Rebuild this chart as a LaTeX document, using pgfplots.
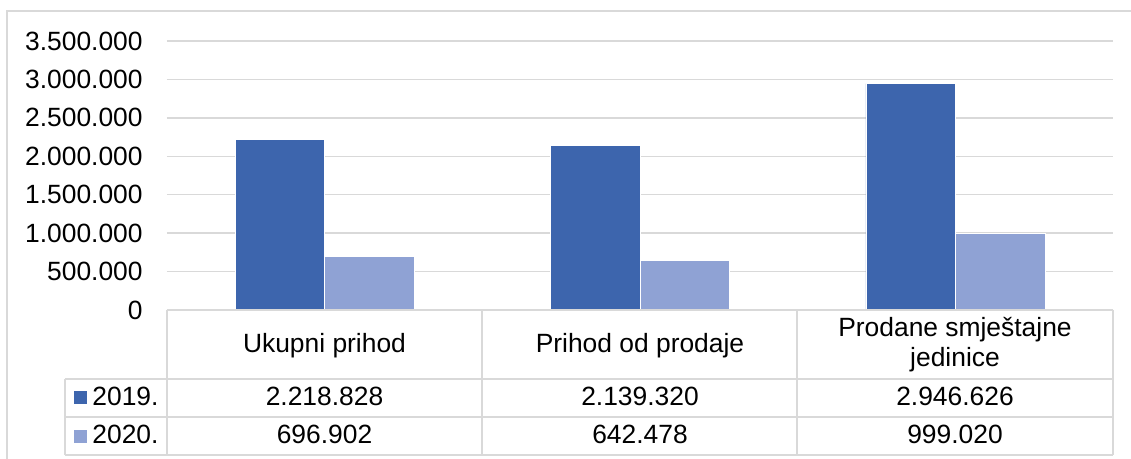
\documentclass[border=0pt]{standalone}
\usepackage{pgfplots}
\pgfplotsset{compat=1.18}
\usepackage{fontspec}
\setmainfont{Liberation Sans}
\definecolor{cA}{RGB}{61,101,173}
\definecolor{cB}{RGB}{143,162,212}
\definecolor{gridc}{RGB}{217,217,217}
\begin{document}
\begin{tikzpicture}[font=\fontsize{13.2pt}{15pt}\selectfont]
\useasboundingbox (0,0) rectangle (565.5pt,229.5pt);
\begin{axis}[
  at={(83.5pt,74.5pt)}, anchor=south west,
  scale only axis, width=473pt, height=134.5pt,
  xmin=-0.5, xmax=2.5, ymin=0, ymax=3500000,
  ytick={0,500000,1000000,1500000,2000000,2500000,3000000,3500000},
  xtick=\empty,
  ybar=0pt, bar width=44.75pt,
  ymajorgrids, grid style={gridc, line width=0.75pt},
  axis line style={draw=none},
  major tick length=0pt,
  scaled y ticks=false,
  yticklabel style={inner sep=0pt, xshift=-12pt, font=\fontsize{13.2pt}{15pt}\selectfont,
    /pgf/number format/.cd, fixed, 1000 sep={.}, assume math mode=true},
]
\addplot[fill=cA, draw=white, line width=0.3pt] coordinates {(0,2218828) (1,2139320) (2,2946626)};
\addplot[fill=cB, draw=white, line width=0.3pt] coordinates {(0,696902) (1,642478) (2,999020)};
\end{axis}
\begin{scope}[shift={(0,229.5pt)}, x=0.5pt, y=-0.5pt]
\draw[gridc, line width=0.75pt] (7,470) -- (7,11) -- (1140,11);
\draw[gridc, line width=0.75pt] (167,310) -- (1113,310) (65,379) -- (1113,379)
  (65,417) -- (1113,417) (65,455) -- (1113,455);
\draw[gridc, line width=0.75pt] (167,310) -- (167,455) (482,310) -- (482,455)
  (797,310) -- (797,455) (1113,310) -- (1113,455) (65,379) -- (65,455);
\fill[cA] (74,391) rectangle (87,404);
\fill[cB] (74,430) rectangle (87,443);
\node[anchor=base west, inner sep=0pt] at (92,406) {2019.};
\node[anchor=base west, inner sep=0pt] at (92,444) {2020.};
\node[anchor=base, inner sep=0pt] at (324.5,353) {Ukupni prihod};
\node[anchor=base, inner sep=0pt] at (640,353) {Prihod od prodaje};
\node[anchor=base, inner sep=0pt] at (955,337) {Prodane smještajne};
\node[anchor=base, inner sep=0pt] at (955,367) {jedinice};
\node[anchor=base, inner sep=0pt] at (324.5,406) {2.218.828};
\node[anchor=base, inner sep=0pt] at (640,406) {2.139.320};
\node[anchor=base, inner sep=0pt] at (955,406) {2.946.626};
\node[anchor=base, inner sep=0pt] at (324.5,444) {696.902};
\node[anchor=base, inner sep=0pt] at (640,444) {642.478};
\node[anchor=base, inner sep=0pt] at (955,444) {999.020};
\end{scope}
\end{tikzpicture}
\end{document}
